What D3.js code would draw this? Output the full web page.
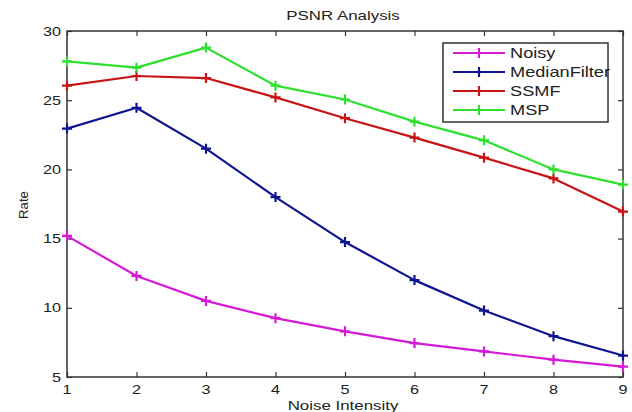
<!DOCTYPE html>
<html><head><meta charset="utf-8">
<script src="https://cdn.jsdelivr.net/npm/d3@7"></script>
<style>body{margin:0;background:#fff}svg{display:block}text{font-family:Arial,"Liberation Sans",sans-serif;fill:#222}</style>
</head><body><svg id="c" width="632" height="412"></svg>
<script>
const noiseLevels = [1,2,3,4,5,6,7,8,9];
const noisy = [15.2,12.3,10.5,9.25,8.3,7.45,6.85,6.25,5.75];
const medianFilter = [22.95,24.45,21.5,18.0,14.75,12.0,9.8,7.95,6.55];
const ssmf = [26.05,26.75,26.6,25.2,23.7,22.3,20.85,19.35,16.95];
const msp = [27.8,27.35,28.8,26.05,25.05,23.45,22.1,20.0,18.9];
const seriesNames = ["Noisy","MedianFilter","SSMF","MSP"];
const seriesColors = ["#d41ad4","#0f148f","#c81414","#2ee02e"];
const yTicks = [5,10,15,20,25,30];
const xTicks = [1,2,3,4,5,6,7,8,9];
const series = [noisy, medianFilter, ssmf, msp];

const svg = d3.select("#c");
const L=67, R=623, T=31, B=377, SX=1.3;
const x = d3.scaleLinear().domain([1,9]).range([L,R]);
const y = d3.scaleLinear().domain([5,30]).range([B,T]);

function txt(g, px, py, s, size, anchor, rot){
  return g.append("text").attr("transform",`translate(${px},${py})${rot?` rotate(${rot})`:""} scale(${SX},1)`)
    .attr("font-size",size).attr("text-anchor",anchor||"start").text(s);
}

// frame
svg.append("rect").attr("x",L).attr("y",T).attr("width",R-L).attr("height",B-T)
  .attr("fill","none").attr("stroke","#333").attr("stroke-width",1.5);

// axes with inward ticks
const axColor="#333";
const gB = svg.append("g").attr("transform",`translate(0,${B})`)
  .call(d3.axisBottom(x).tickValues(xTicks).tickSize(-5).tickFormat(""));
const gT = svg.append("g").attr("transform",`translate(0,${T})`)
  .call(d3.axisTop(x).tickValues(xTicks).tickSize(-5).tickFormat(""));
const gL = svg.append("g").attr("transform",`translate(${L},0)`)
  .call(d3.axisLeft(y).tickValues(yTicks).tickSize(-5).tickFormat(""));
const gR = svg.append("g").attr("transform",`translate(${R},0)`)
  .call(d3.axisRight(y).tickValues(yTicks).tickSize(-5).tickFormat(""));
[gB,gT,gL,gR].forEach(g=>{g.select(".domain").remove();g.selectAll("line").attr("stroke",axColor).attr("stroke-width",1.2);});

// tick labels
xTicks.forEach(v=>txt(svg, x(v), B+17, String(v), 12.5, "middle"));
yTicks.forEach(v=>txt(svg, L-6, y(v)+4.5, String(v), 12.5, "end"));

// titles
txt(svg, 343, 20, "PSNR Analysis", 13, "middle");
txt(svg, 343, 410, "Noise Intensity", 13, "middle");
svg.append("text").attr("transform",`translate(28,205) rotate(-90) scale(1.2,1.2)`)
  .attr("font-size",11).attr("text-anchor","middle").text("Rate");

// lines
const line = d3.line().x((d,i)=>x(noiseLevels[i])).y(d=>y(d));
series.forEach((s,k)=>{
  const g = svg.append("g");
  g.append("path").datum(s).attr("d",line).attr("fill","none")
    .attr("stroke",seriesColors[k]).attr("stroke-width",2.2).attr("stroke-linejoin","round");
  g.selectAll("path.m").data(s).join("path").attr("class","m")
    .attr("d",(d,i)=>{const cx=x(noiseLevels[i]), cy=y(d);return `M${cx-5},${cy}H${cx+5}M${cx},${cy-5}V${cy+5}`;})
    .attr("stroke",seriesColors[k]).attr("stroke-width",2.2);
});

// legend
const lg = svg.append("g");
lg.append("rect").attr("x",443).attr("y",43).attr("width",165).attr("height",79)
  .attr("fill","#fff").attr("stroke","#333").attr("stroke-width",1.5);
const rowY = d3.scalePoint().domain(seriesNames).range([53,110]);
seriesNames.forEach((n,k)=>{
  const yy=rowY(n);
  lg.append("path").attr("d",`M453,${yy}H505M479,${yy-5}V${yy+5}`)
    .attr("stroke",seriesColors[k]).attr("stroke-width",2.2).attr("fill","none");
  txt(lg, 510, yy+5, n, 14, "start");
});
</script></body></html>
